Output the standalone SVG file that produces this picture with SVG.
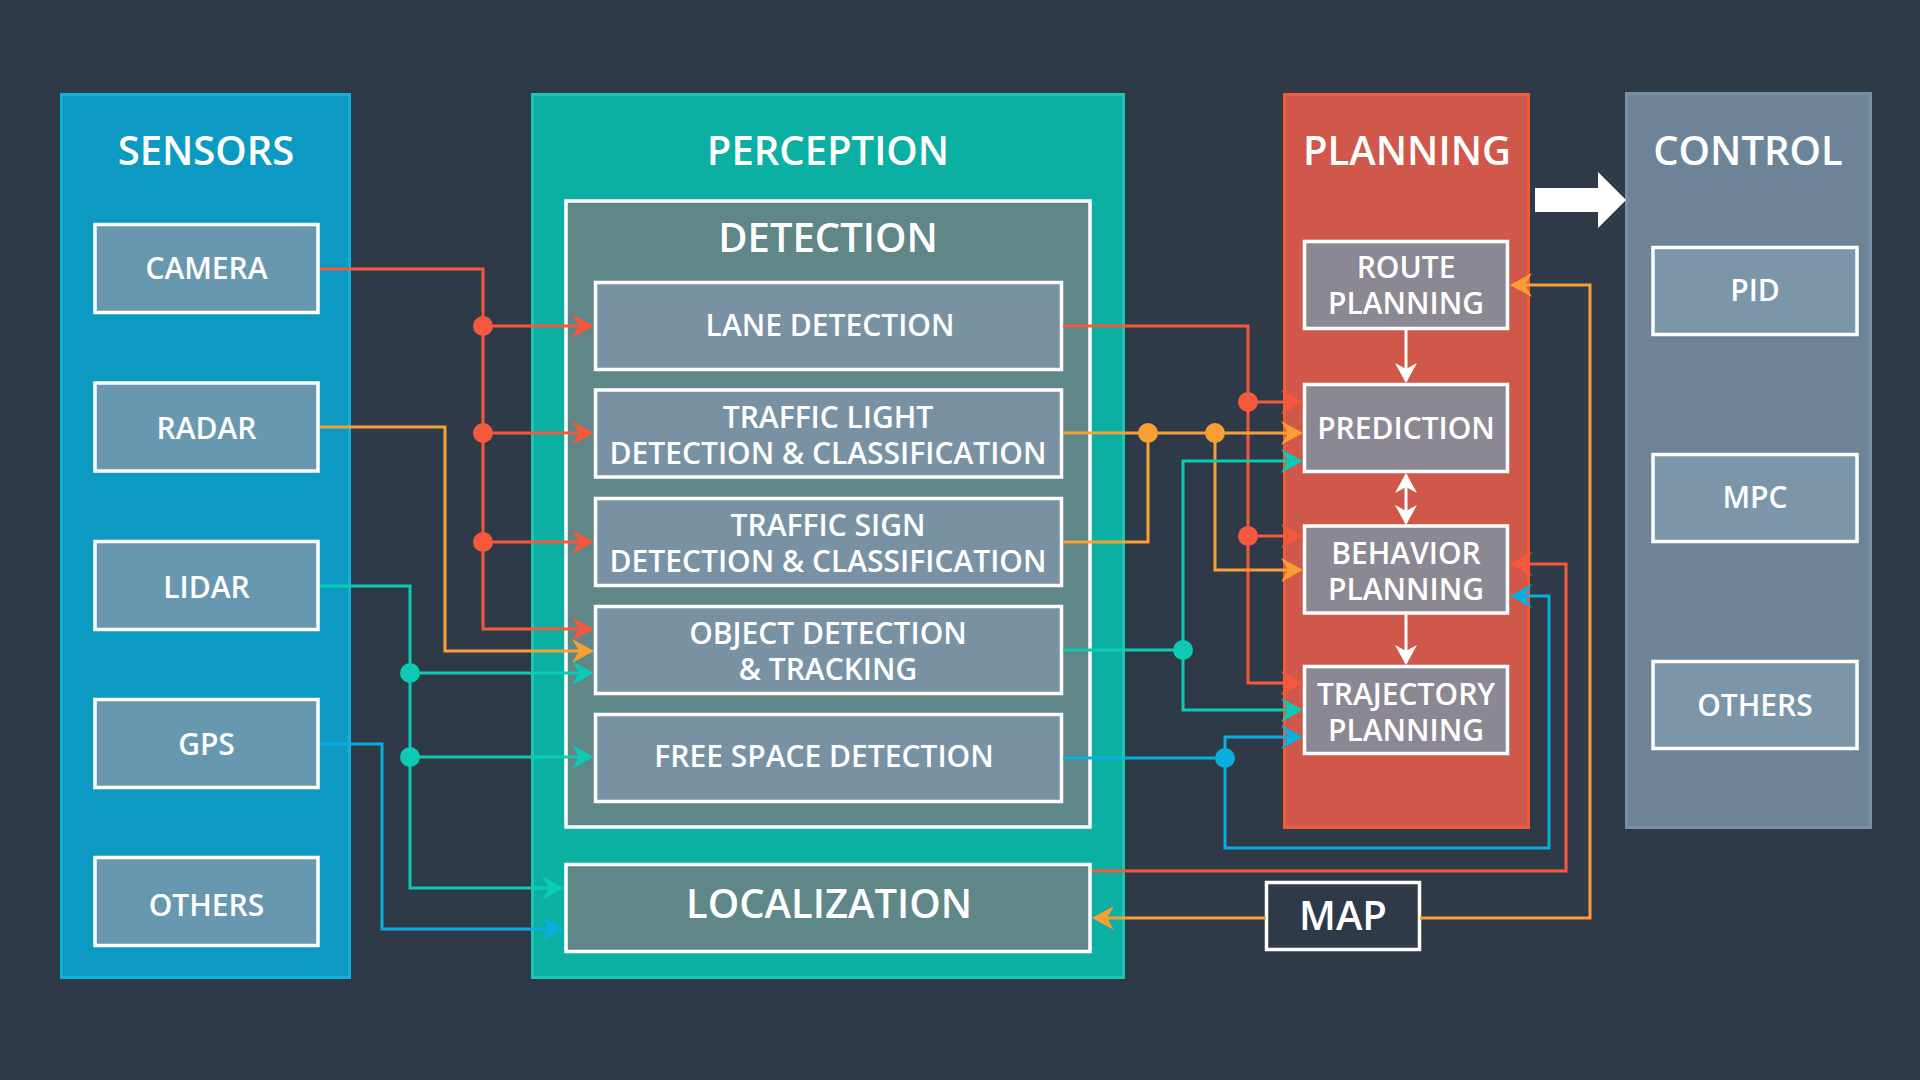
<svg xmlns="http://www.w3.org/2000/svg" width="1920" height="1080" viewBox="0 0 1920 1080">
<defs>
<style>
text{font-family:"Open Sans","Noto Sans","Liberation Sans",sans-serif;font-weight:600;fill:#ffffff;text-anchor:middle}
.title{font-size:40px}
.lbl{font-size:30px}
.big{font-size:40px}
.box{stroke:#ffffff;stroke-width:3.5}
.sbox{fill:#6898b0}
.dbox{fill:#7892a3}
.pbox{fill:#8c8893}
.cbox{fill:#7b95a9}
.c{fill:none;stroke-width:3}
.r{stroke:#f4593d}.o{stroke:#f79f35}.t{stroke:#0ccab3}.b{stroke:#0aaedf}
.w{stroke:#ffffff}
</style>
<marker id="aR" markerUnits="userSpaceOnUse" markerWidth="26" markerHeight="28" viewBox="-24 -14 26 28" refX="-4" refY="0" orient="auto"><path d="M0,0 L-22,-12 L-15,0 L-22,12 Z" fill="#f4593d"/></marker>
<marker id="aO" markerUnits="userSpaceOnUse" markerWidth="26" markerHeight="28" viewBox="-24 -14 26 28" refX="-4" refY="0" orient="auto"><path d="M0,0 L-22,-12 L-15,0 L-22,12 Z" fill="#f79f35"/></marker>
<marker id="aT" markerUnits="userSpaceOnUse" markerWidth="26" markerHeight="28" viewBox="-24 -14 26 28" refX="-4" refY="0" orient="auto"><path d="M0,0 L-22,-12 L-15,0 L-22,12 Z" fill="#0ccab3"/></marker>
<marker id="aB" markerUnits="userSpaceOnUse" markerWidth="26" markerHeight="28" viewBox="-24 -14 26 28" refX="-4" refY="0" orient="auto"><path d="M0,0 L-22,-12 L-15,0 L-22,12 Z" fill="#0aaedf"/></marker>
<marker id="aW" markerUnits="userSpaceOnUse" markerWidth="24" markerHeight="26" viewBox="-22 -13 24 26" refX="-2" refY="0" orient="auto-start-reverse"><path d="M0,0 L-20,-11 L-14,0 L-20,11 Z" fill="#ffffff"/></marker>
</defs>
<rect x="0" y="0" width="1920" height="1080" fill="#2e3a47"/>

<g id="sensors">
<rect x="61.5" y="94.5" width="288" height="883" fill="#0c9ac3" stroke="#0fb2df" stroke-width="3"/>
<text class="title" x="206" y="165">SENSORS</text>
</g>
<g id="camera"><rect class="box sbox" x="95" y="224.5" width="223" height="88"/><text class="lbl" x="206.5" y="279">CAMERA</text></g>
<g id="radar"><rect class="box sbox" x="95" y="383" width="223" height="88"/><text class="lbl" x="206.5" y="438.5">RADAR</text></g>
<g id="lidar"><rect class="box sbox" x="95" y="541.5" width="223" height="88"/><text class="lbl" x="206.5" y="598">LIDAR</text></g>
<g id="gps"><rect class="box sbox" x="95" y="699.5" width="223" height="88"/><text class="lbl" x="206.5" y="755">GPS</text></g>
<g id="sensor-others"><rect class="box sbox" x="95" y="857.5" width="223" height="88"/><text class="lbl" x="206.5" y="916">OTHERS</text></g>

<g id="perception">
<rect x="532.5" y="94.5" width="591" height="883" fill="#0bb0a2" stroke="#17c8b6" stroke-width="3"/>
<text class="title" x="828" y="165">PERCEPTION</text>
</g>
<g id="detection">
<rect class="box" x="566" y="201" width="524" height="626" fill="#5f8788"/>
<text class="title" x="828" y="252">DETECTION</text>
</g>
<g id="lane-detection"><rect class="box dbox" x="595.5" y="282.5" width="466" height="87"/><text class="lbl" x="830" y="336">LANE DETECTION</text></g>
<g id="traffic-light"><rect class="box dbox" x="595.5" y="390" width="466" height="87"/><text class="lbl" x="828" y="428">TRAFFIC LIGHT<tspan x="828" dy="36">DETECTION &amp; CLASSIFICATION</tspan></text></g>
<g id="traffic-sign"><rect class="box dbox" x="595.5" y="498.5" width="466" height="87"/><text class="lbl" x="828" y="536">TRAFFIC SIGN<tspan x="828" dy="36">DETECTION &amp; CLASSIFICATION</tspan></text></g>
<g id="object-detection"><rect class="box dbox" x="595.5" y="606.5" width="466" height="87"/><text class="lbl" x="828" y="644">OBJECT DETECTION<tspan x="828" dy="36">&amp; TRACKING</tspan></text></g>
<g id="free-space"><rect class="box dbox" x="595.5" y="714.5" width="466" height="87"/><text class="lbl" x="824" y="767">FREE SPACE DETECTION</text></g>
<g id="localization"><rect class="box" x="566" y="864.5" width="524" height="87" fill="#5f8788"/><text class="big" x="829" y="918">LOCALIZATION</text></g>

<g id="planning">
<rect x="1284.5" y="94.5" width="244" height="733" fill="#d0584a" stroke="#f25b38" stroke-width="3"/>
<text class="title" x="1407" y="165">PLANNING</text>
</g>
<g id="route-planning"><rect class="box pbox" x="1304.5" y="241.5" width="203" height="87"/><text class="lbl" x="1406" y="278">ROUTE<tspan x="1406" dy="36">PLANNING</tspan></text></g>
<g id="prediction"><rect class="box pbox" x="1304.5" y="384.5" width="203" height="87"/><text class="lbl" x="1406" y="439">PREDICTION</text></g>
<g id="behavior-planning"><rect class="box pbox" x="1304.5" y="526" width="203" height="87"/><text class="lbl" x="1406" y="564">BEHAVIOR<tspan x="1406" dy="36">PLANNING</tspan></text></g>
<g id="trajectory-planning"><rect class="box pbox" x="1304.5" y="666.5" width="203" height="87"/><text class="lbl" x="1406" y="705">TRAJECTORY<tspan x="1406" dy="36">PLANNING</tspan></text></g>

<g id="control">
<rect x="1626.5" y="93.5" width="244" height="734" fill="#6d8498" stroke="#7890a5" stroke-width="3"/>
<text class="title" x="1748" y="165">CONTROL</text>
</g>
<g id="pid"><rect class="box cbox" x="1653" y="247.5" width="204" height="87"/><text class="lbl" x="1755" y="301">PID</text></g>
<g id="mpc"><rect class="box cbox" x="1653" y="454.5" width="204" height="87"/><text class="lbl" x="1755" y="508">MPC</text></g>
<g id="control-others"><rect class="box cbox" x="1653" y="661.5" width="204" height="87"/><text class="lbl" x="1755" y="716">OTHERS</text></g>

<g id="map"><rect class="box" x="1266.5" y="882.5" width="153" height="67" fill="#2e3a47"/><text class="big" x="1343" y="930">MAP</text></g>

<g id="connectors">
<path class="c r" d="M320,269 H483 V629 H590" marker-end="url(#aR)"/>
<path class="c r" d="M483,326 H590" marker-end="url(#aR)"/>
<path class="c r" d="M483,433 H590" marker-end="url(#aR)"/>
<path class="c r" d="M483,542 H590" marker-end="url(#aR)"/>
<path class="c o" d="M320,427 H445 V651 H590" marker-end="url(#aO)"/>
<path class="c t" d="M320,586 H410 V888 H560" marker-end="url(#aT)"/>
<path class="c t" d="M410,673 H590" marker-end="url(#aT)"/>
<path class="c t" d="M410,757 H590" marker-end="url(#aT)"/>
<path class="c b" d="M320,744 H382 V929 H560" marker-end="url(#aB)"/>
<g fill="#f4593d"><circle cx="483" cy="326" r="10"/><circle cx="483" cy="433" r="10"/><circle cx="483" cy="542" r="10"/></g>
<g fill="#0ccab3"><circle cx="410" cy="673" r="10"/><circle cx="410" cy="757" r="10"/></g>
<path class="c r" d="M1063,326 H1248 V683 H1299" marker-end="url(#aR)"/>
<path class="c r" d="M1248,402 H1299" marker-end="url(#aR)"/>
<path class="c r" d="M1248,536 H1299" marker-end="url(#aR)"/>
<path class="c o" d="M1063,433 H1299" marker-end="url(#aO)"/>
<path class="c o" d="M1063,542 H1148 V433"/>
<path class="c o" d="M1215,433 V570 H1299" marker-end="url(#aO)"/>
<path class="c t" d="M1063,650 H1183 V461 H1299" marker-end="url(#aT)"/>
<path class="c t" d="M1183,650 V710 H1299" marker-end="url(#aT)"/>
<path class="c b" d="M1063,758 H1225 V737 H1299" marker-end="url(#aB)"/>
<path class="c b" d="M1225,758 V848 H1549 V596 H1514" marker-end="url(#aB)"/>
<path class="c r" d="M1092,871 H1566 V564 H1514" marker-end="url(#aR)"/>
<path class="c o" d="M1266,918 H1096" marker-end="url(#aO)"/>
<path class="c o" d="M1420,918 H1590 V285 H1514" marker-end="url(#aO)"/>
<g fill="#f4593d"><circle cx="1248" cy="402" r="10"/><circle cx="1248" cy="536" r="10"/></g>
<g fill="#f79f35"><circle cx="1148" cy="433" r="10"/><circle cx="1215" cy="433" r="10"/></g>
<circle cx="1183" cy="650" r="10" fill="#0ccab3"/>
<circle cx="1225" cy="758" r="10" fill="#0aaedf"/>
<path class="c w" d="M1406,330 V381" marker-end="url(#aW)"/>
<path class="c w" d="M1406,475 V523" marker-start="url(#aW)" marker-end="url(#aW)"/>
<path class="c w" d="M1406,615 V663" marker-end="url(#aW)"/>
<path d="M1535,188 H1598 V172 L1626,200 L1598,228 V212 H1535 Z" fill="#ffffff"/>
</g>
</svg>
